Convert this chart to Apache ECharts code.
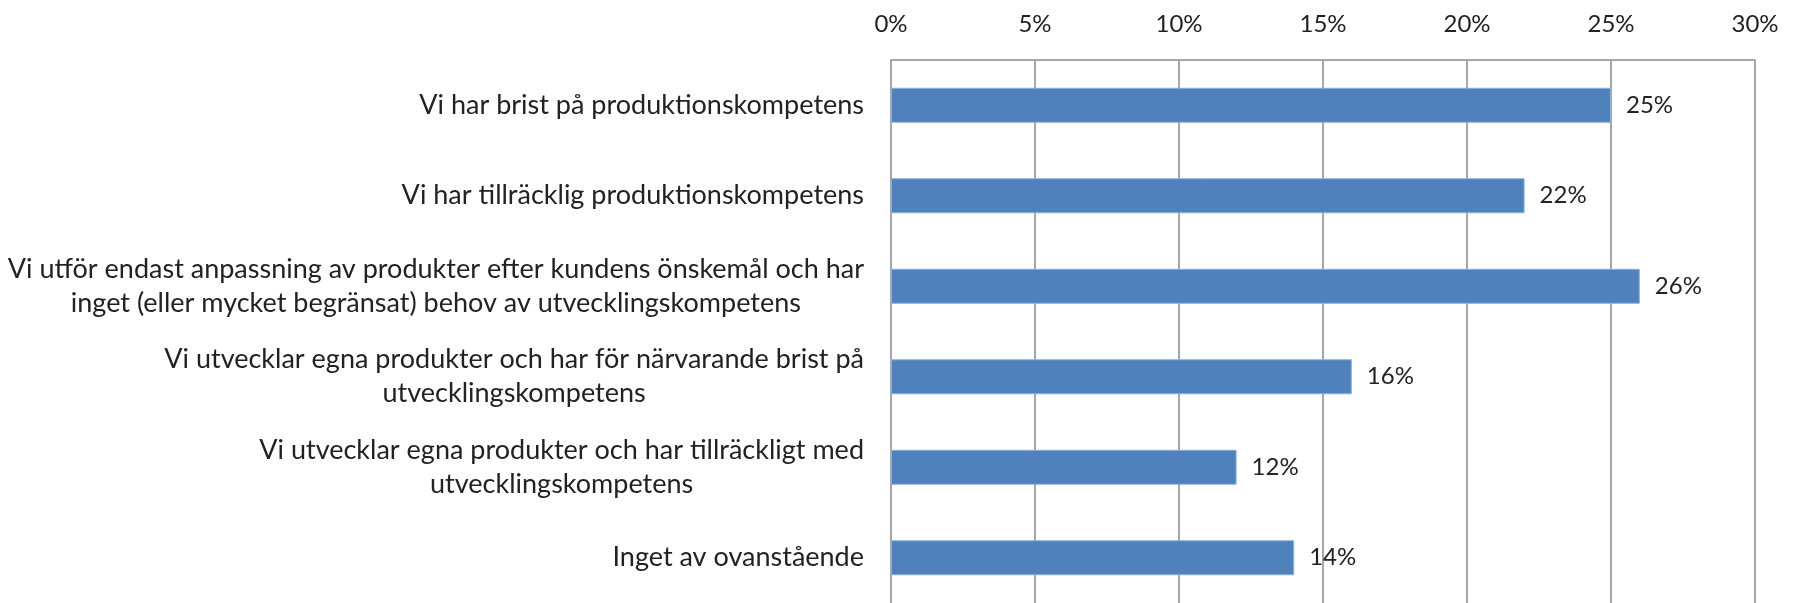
<!DOCTYPE html>
<html>
<head>
<meta charset="utf-8">
<script src="https://cdn.jsdelivr.net/npm/echarts@6/dist/echarts.min.js"></script>
<style>
  html, body { margin: 0; padding: 0; background: #fff; }
  #main { width: 1794px; height: 603px; }
</style>
</head>
<body>
<div id="main"></div>
<script>
// kategorier (radbrytningar som i originalet)
var categories = [
    'Vi har brist på produktionskompetens',
    'Vi har tillräcklig produktionskompetens',
    'Vi utför endast anpassning av produkter efter kundens önskemål och har\ninget (eller mycket begränsat) behov av utvecklingskompetens',
    'Vi utvecklar egna produkter och har för närvarande brist på\nutvecklingskompetens',
    'Vi utvecklar egna produkter och har tillräckligt med\nutvecklingskompetens',
    'Inget av ovanstående'
];
var values = [25, 22, 26, 16, 12, 14];
var xTicks = [0, 5, 10, 15, 20, 25, 30];

var fontFamily = 'Lato';
var myChart = echarts.init(document.getElementById('main'));

var option = {
    animation: false,
    grid: {left: 891, right: 39, top: 60, height: 544, containLabel: false},
    xAxis: {
        type: 'value',
        position: 'top',
        min: xTicks[0],
        max: xTicks[xTicks.length - 1],
        interval: 5,
        axisLine: {show: true, lineStyle: {color: '#a6a6a6', width: 2}},
        axisTick: {show: false},
        axisLabel: {
            formatter: '{value}%',
            color: '#222',
            fontFamily: fontFamily,
            fontSize: 24,
            margin: 24
        },
        splitLine: {show: true, lineStyle: {color: '#a6a6a6', width: 2}}
    },
    yAxis: {
        type: 'category',
        inverse: true,
        data: categories,
        axisLine: {show: false},
        axisTick: {show: false},
        axisLabel: {
            margin: 27,
            color: '#222',
            fontFamily: fontFamily,
            fontSize: 27,
            lineHeight: 34,
            align: 'right',
            formatter: function (v) {
                return v.split('\n').map(function (s) { return '{c|' + s + '}'; }).join('\n');
            },
            rich: {
                c: {align: 'center', fontFamily: fontFamily, fontSize: 27, lineHeight: 34, color: '#222'}
            }
        }
    },
    series: [{
        type: 'bar',
        data: values,
        barWidth: 35,
        itemStyle: {color: '#4f81bd', borderColor: '#8db0dc', borderWidth: 1},
        label: {
            show: true,
            position: 'right',
            distance: 15,
            formatter: '{c}%',
            color: '#222',
            fontFamily: fontFamily,
            fontSize: 24
        }
    }]
};
myChart.setOption(option);
</script>
</body>
</html>
